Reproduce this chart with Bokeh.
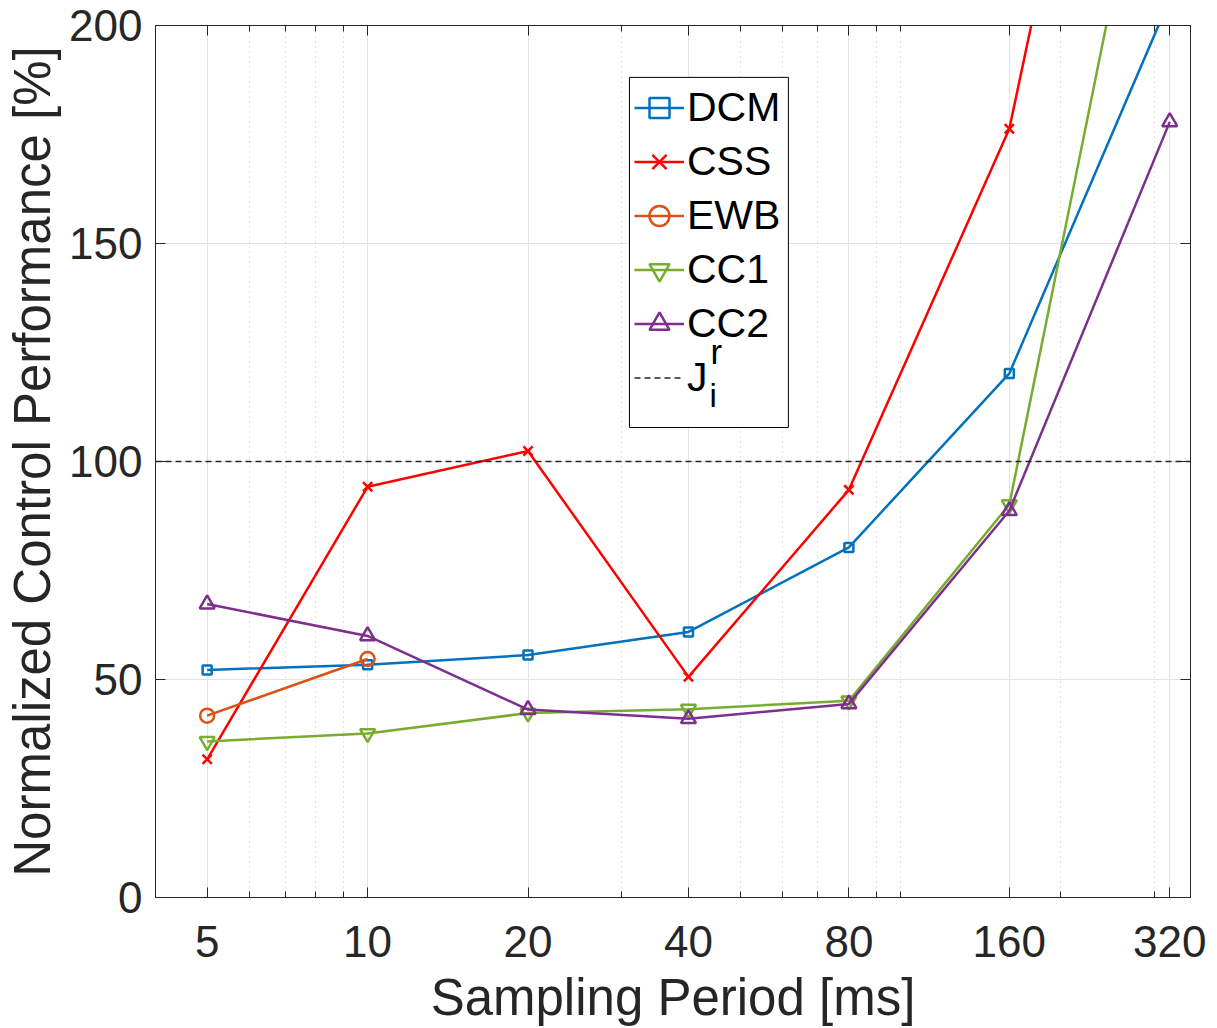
from bokeh.plotting import figure
from bokeh.models import (FixedTicker, LogAxis, LinearAxis, Legend, LegendItem, Label,
                          Range1d, BoxAnnotation)
from bokeh.embed import file_html
from bokeh.resources import INLINE

# ---- data ----
periods = [5, 10, 20, 40, 80, 160, 320]
dcm = [52.2, 53.4, 55.6, 60.9, 80.3, 120.2, 206.0]
css = [31.7, 94.2, 102.4, 50.6, 93.5, 176.3, 350.0]
ewb_periods = [5, 10]
ewb = [41.7, 54.7]
cc1 = [35.8, 37.6, 42.3, 43.2, 45.1, 90.1, 272.0]
cc2 = [67.3, 60.0, 43.1, 41.0, 44.4, 88.7, 177.9]
ref_level = 100
x_limits = [4, 350]
y_limits = [0, 200]
x_ticks = [5, 10, 20, 40, 80, 160, 320]
x_minor_ticks = [6, 7, 8, 9, 30, 50, 60, 70, 90, 100, 200, 300]
y_ticks = [0, 50, 100, 150, 200]

FONT = "Liberation Sans"
TXT = "#262626"

p = figure(x_axis_type="log",
           x_range=Range1d(*x_limits), y_range=Range1d(*y_limits),
           output_backend="svg", toolbar_location=None,
           frame_width=1035, frame_height=872,
           min_border_left=155, min_border_top=25, min_border_right=20, min_border_bottom=128)
p.outline_line_color = TXT
p.outline_line_width = 1
p.background_fill_color = "white"
p.border_fill_color = "white"

xt = FixedTicker(ticks=x_ticks, minor_ticks=x_minor_ticks)
yt = FixedTicker(ticks=y_ticks)

def style_axis(ax, labels=True):
    ax.axis_line_color = TXT
    ax.major_tick_in = 10
    ax.major_tick_out = 0
    ax.minor_tick_in = 6
    ax.minor_tick_out = 0
    ax.major_tick_line_color = TXT
    ax.minor_tick_line_color = TXT
    ax.major_label_text_font = FONT
    if labels:
        ax.major_label_text_color = TXT
        ax.major_label_text_font_size = "44px"
    else:
        ax.major_label_text_color = None
        ax.major_label_text_font_size = "1px"
        ax.major_label_standoff = 0

xa = p.xaxis[0]
xa.ticker = xt
style_axis(xa)
xa.major_label_standoff = 28
xa.axis_label = "Sampling Period [ms]"
xa.axis_label_text_font = FONT
xa.axis_label_text_font_size = "51px"
xa.axis_label_text_font_style = "normal"
xa.axis_label_text_color = TXT
xa.axis_label_standoff = 9

ya = p.yaxis[0]
ya.ticker = yt
style_axis(ya)
ya.major_label_standoff = 13
ya.axis_label = "Normalized Control Performance [%]"
ya.axis_label_text_font = FONT
ya.axis_label_text_font_size = "51px"
ya.axis_label_text_font_style = "normal"
ya.axis_label_text_color = TXT
ya.axis_label_standoff = 5

top = LogAxis(ticker=FixedTicker(ticks=x_ticks, minor_ticks=x_minor_ticks))
style_axis(top, labels=False)
p.add_layout(top, "above")
right = LinearAxis(ticker=FixedTicker(ticks=y_ticks))
style_axis(right, labels=False)
p.add_layout(right, "right")

p.xgrid.ticker = xt
p.xgrid.grid_line_color = "#e3e3e3"
p.xgrid.minor_grid_line_color = "#c8c8c8"
p.xgrid.minor_grid_line_dash = "1 4"
p.ygrid.ticker = yt
p.ygrid.grid_line_color = "#e3e3e3"

LW = 2.5
c_dcm, c_css, c_ewb, c_cc1, c_cc2 = "#0072BD", "#FF0000", "#D95319", "#77AC30", "#7E2F8E"

l1 = p.line(periods, dcm, color=c_dcm, line_width=LW)
m1 = p.scatter(periods, dcm, marker="square", size=9, line_color=c_dcm, fill_color=None, line_width=2.5)
l2 = p.line(periods, css, color=c_css, line_width=LW)
m2 = p.scatter(periods, css, marker="x", size=13, line_color=c_css, line_width=2.5)
l3 = p.line(ewb_periods, ewb, color=c_ewb, line_width=LW)
m3 = p.scatter(ewb_periods, ewb, marker="circle", size=14, line_color=c_ewb, fill_color=None, line_width=2.5)
l4 = p.line(periods, cc1, color=c_cc1, line_width=LW)
m4 = p.scatter(periods, cc1, marker="inverted_triangle", size=15, line_color=c_cc1, fill_color=None, line_width=2.5)
l5 = p.line(periods, cc2, color=c_cc2, line_width=LW)
m5 = p.scatter(periods, cc2, marker="triangle", size=15, line_color=c_cc2, fill_color=None, line_width=2.5)
l6 = p.line(x_limits, [ref_level, ref_level], color="#262626", line_width=1.3, line_dash="6 4")

# white, black-bordered backing of the legend (the legend itself is transparent
# so that the super/subscript labels of "J" stay visible)
legend_bg = BoxAnnotation(left=31.0, right=61.6, top=188.1, bottom=107.8,
                          fill_color="white", fill_alpha=1.0,
                          line_color="black", line_width=1, line_alpha=1.0)
p.add_layout(legend_bg)

sup = Label(x=44.0, y=125.2, text="r",
            text_font=FONT, text_font_size="35px", text_color="black", text_baseline="alphabetic")
sub = Label(x=43.8, y=115.1, text="i",
            text_font=FONT, text_font_size="33px", text_color="black", text_baseline="alphabetic")
p.add_layout(sup)
p.add_layout(sub)

# borderless legend: Bokeh drops the padding, so the location includes it
legend = Legend(items=[
    LegendItem(label="DCM", renderers=[l1, m1]),
    LegendItem(label="CSS", renderers=[l2, m2]),
    LegendItem(label="EWB", renderers=[l3, m3]),
    LegendItem(label="CC1", renderers=[l4, m4]),
    LegendItem(label="CC2", renderers=[l5, m5]),
    LegendItem(label="J", renderers=[l6]),
], location=(479, 494))
legend.label_text_font = FONT
legend.label_text_font_size = "41px"
legend.label_text_color = "black"
legend.glyph_width = 50
legend.glyph_height = 51
legend.label_height = 51
legend.label_standoff = 3
legend.spacing = 3
legend.padding = 5
legend.margin = 0
legend.border_line_color = None
legend.background_fill_color = "white"
legend.background_fill_alpha = 0
p.add_layout(legend, "center")

open("out.html", "w").write(file_html(p, INLINE))
